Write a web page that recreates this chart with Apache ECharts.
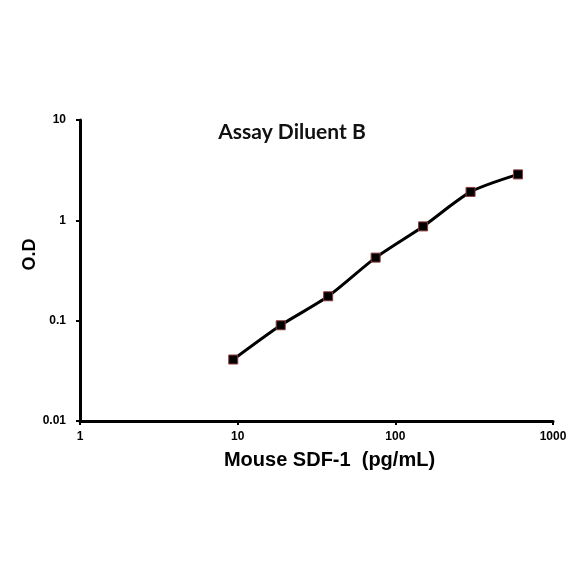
<!DOCTYPE html>
<html>
<head>
<meta charset="utf-8">
<script src="https://cdn.jsdelivr.net/npm/echarts@6/dist/echarts.min.js"></script>
<style>
  html, body { margin: 0; padding: 0; background: #fff; }
  #chart { width: 584px; height: 584px; }
</style>
</head>
<body>
<div id="chart"></div>
<script>
// concentrations (pg/mL) and O.D readings
const conc = [9.375, 18.75, 37.5, 75, 150, 300, 600];
const od = [0.041, 0.090, 0.175, 0.425, 0.87, 1.92, 2.87];
const xTicks = [1, 10, 100, 1000];
const yTicks = [0.01, 0.1, 1, 10];

const myChart = echarts.init(document.getElementById("chart"));

const axisFont = {
  color: "#000",
  fontFamily: "Liberation Sans, Arial, sans-serif",
  fontWeight: "bold",
  fontSize: 12,
};

myChart.setOption({
  animation: false,
  backgroundColor: "#fff",
  title: {
    text: "Assay Diluent B",
    left: 287,
    top: 117,
    textAlign: "center",
    textStyle: {
      fontFamily: "Lato, Open Sans, sans-serif",
      fontWeight: "bold",
      fontSize: 21,
      color: "#111",
    },
  },
  grid: {
    left: 80,
    right: 31,
    top: 120,
    bottom: 163,
  },
  xAxis: {
    type: "log",
    logBase: 10,
    min: xTicks[0],
    max: xTicks[xTicks.length - 1],
    name: "Mouse SDF-1  (pg/mL)",
    nameLocation: "middle",
    nameGap: 29,
    nameTextStyle: {
      color: "#000",
      fontFamily: "Liberation Sans, Arial, sans-serif",
      fontWeight: "bold",
      fontSize: 20,
      padding: [0, 0, 0, 26],
    },
    axisLine: { lineStyle: { color: "#000", width: 3 } },
    axisTick: { show: true, length: 4, lineStyle: { color: "#000", width: 2 } },
    axisLabel: {
      ...axisFont,
      margin: 10,
      formatter: (v) => String(xTicks.find((t) => Math.abs(t - v) / t < 1e-6) ?? v),
    },
    splitLine: { show: false },
    minorTick: { show: false },
  },
  yAxis: {
    type: "log",
    logBase: 10,
    min: yTicks[0],
    max: yTicks[yTicks.length - 1],
    name: "O.D",
    nameLocation: "middle",
    nameRotate: 90,
    nameGap: 41,
    nameMoveOverlap: false,
    nameTextStyle: {
      color: "#000",
      fontFamily: "Liberation Sans, Arial, sans-serif",
      fontWeight: "bold",
      fontSize: 18,
      padding: [0, 0, 0, 32],
    },
    axisLine: { show: true, lineStyle: { color: "#000", width: 3 } },
    axisTick: { show: true, length: 4, lineStyle: { color: "#000", width: 2 } },
    axisLabel: {
      ...axisFont,
      margin: 14,
      formatter: (v) => String(yTicks.find((t) => Math.abs(t - v) / t < 1e-6) ?? v),
    },
    splitLine: { show: false },
  },
  series: [
    {
      type: "line",
      smooth: 0.25,
      data: conc.map((c, i) => [c, od[i]]),
      symbol: "rect",
      symbolSize: 9,
      lineStyle: { color: "#000", width: 3 },
      itemStyle: { color: "#000", borderColor: "#8b3a3a", borderWidth: 1 },
    },
  ],
});
</script>
</body>
</html>
